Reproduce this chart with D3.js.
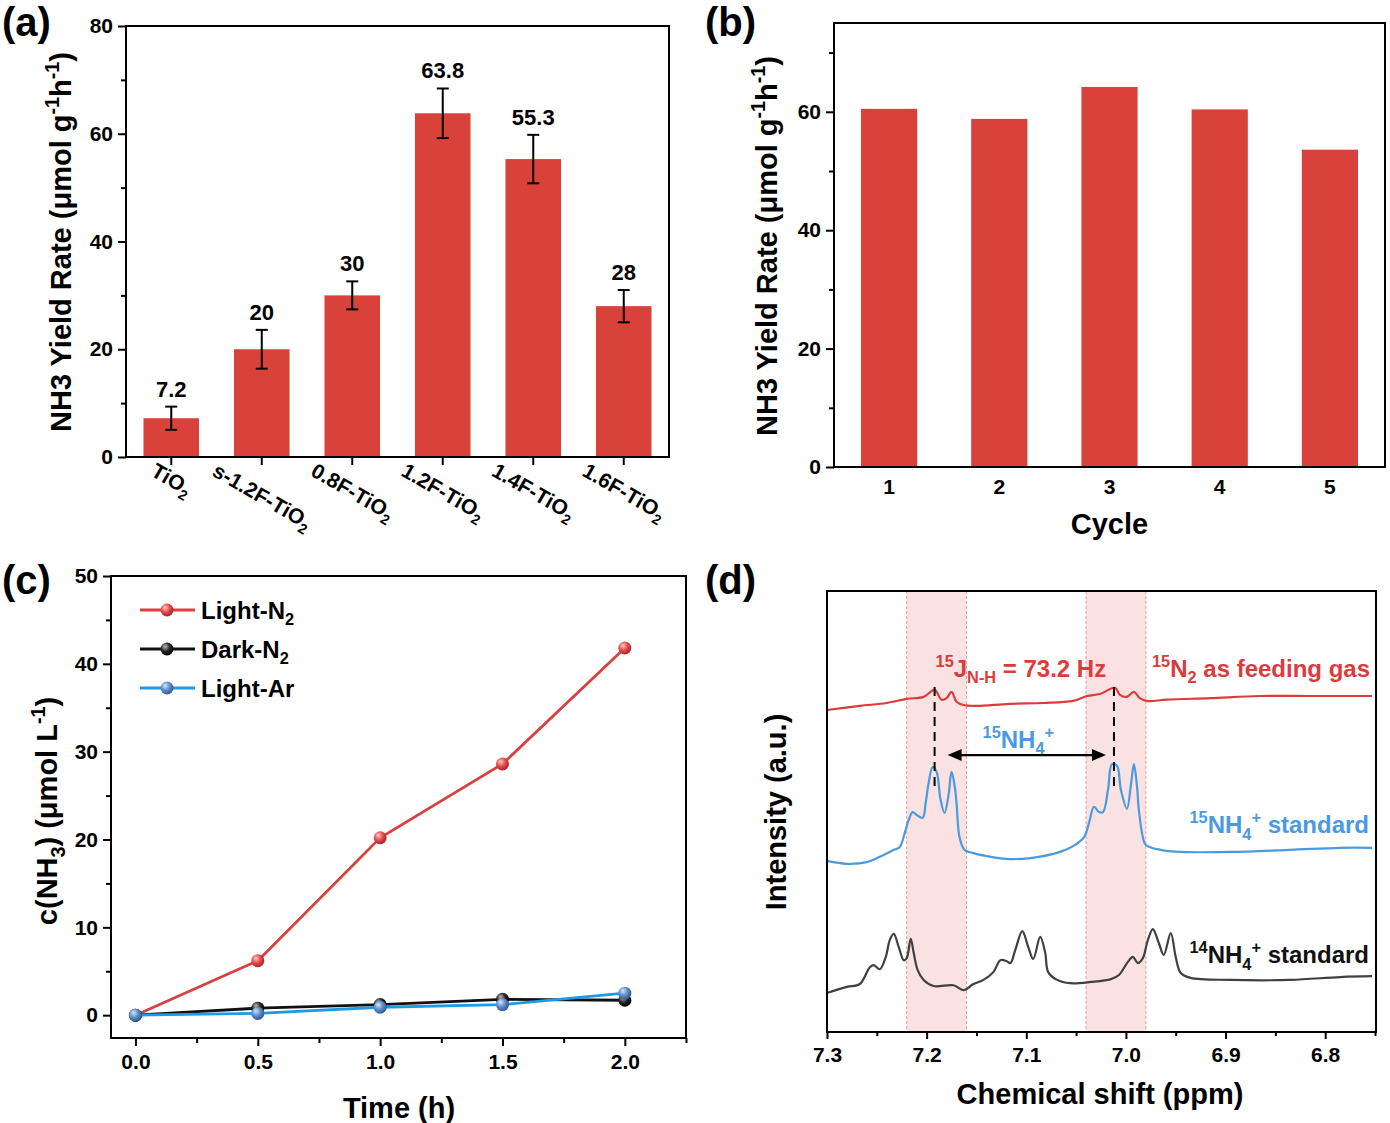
<!DOCTYPE html>
<html>
<head>
<meta charset="utf-8">
<script src="https://cdn.jsdelivr.net/npm/d3@7"></script>
<style>
  body { margin: 0; background: #fff; }
  text { font-family: 'Liberation Sans', Arial, sans-serif; font-weight: bold; }
</style>
</head>
<body>
<script>
// ---- data ----
const samples = ["TiO2", "s-1.2F-TiO2", "0.8F-TiO2", "1.2F-TiO2", "1.4F-TiO2", "1.6F-TiO2"];
const yieldRate = [7.2, 20, 30, 63.8, 55.3, 28];
const yieldErr = [2.15, 3.6, 2.6, 4.6, 4.5, 3.0];

const cycles = ["1", "2", "3", "4", "5"];
const cycleRate = [60.5, 58.8, 64.2, 60.4, 53.6];

const times = [0, 0.5, 1.0, 1.5, 2.0];
const lightN2 = [0, 6.2, 20.2, 28.6, 41.8];
const darkN2 = [0, 0.8, 1.2, 1.8, 1.7];
const lightAr = [0, 0.2, 0.9, 1.2, 2.5];

// NMR traces: [ppm, intensity (a.u.)]
const nmr15N2 = [[7.300,71.2],[7.267,72.2],[7.240,72.9],[7.220,73.9],[7.203,74.4],[7.192,76.1],[7.185,73.7],
  [7.180,74.1],[7.175,75.6],[7.170,73.2],[7.163,72.4],[7.150,72.2],[7.117,72.7],[7.083,72.9],[7.053,73.4],
  [7.039,74.6],[7.026,75.1],[7.011,76.6],[7.006,74.9],[6.999,74.4],[6.992,75.6],[6.986,74.1],[6.979,73.4],
  [6.959,73.7],[6.915,74.1],[6.865,74.6],[6.815,74.6],[6.753,74.6]];
const nmr15Std = [[7.300,34.4],[7.280,33.7],[7.260,34.1],[7.247,35.4],[7.233,37.1],[7.227,37.8],[7.222,41.2],
  [7.218,44.4],[7.214,46.3],[7.210,45.6],[7.204,44.9],[7.201,48.5],[7.198,53.4],[7.194,57.3],[7.190,56.1],
  [7.186,49.3],[7.182,46.1],[7.178,50.5],[7.175,56.1],[7.172,52.9],[7.170,48.5],[7.167,40.2],[7.162,37.1],
  [7.153,36.3],[7.140,35.6],[7.120,34.9],[7.096,35.1],[7.066,36.6],[7.053,38.0],[7.042,40.2],[7.037,43.7],
  [7.032,47.6],[7.027,46.3],[7.023,46.3],[7.018,51.7],[7.014,58.0],[7.009,57.6],[7.005,51.7],[6.999,47.1],
  [6.995,52.9],[6.992,58.0],[6.989,52.9],[6.987,46.8],[6.983,40.2],[6.980,38.3],[6.965,37.1],[6.945,36.6],
  [6.895,36.6],[6.835,37.1],[6.785,37.6],[6.753,37.6]];
const nmr14Std = [[7.300,2.2],[7.280,3.7],[7.267,4.4],[7.257,8.5],[7.253,9.0],[7.247,8.0],[7.241,11.0],
  [7.237,15.1],[7.233,16.6],[7.228,13.4],[7.223,10.2],[7.220,10.7],[7.216,15.4],[7.213,12.0],[7.209,7.8],
  [7.203,5.4],[7.193,3.9],[7.173,4.1],[7.163,2.9],[7.153,4.4],[7.143,5.4],[7.133,7.3],[7.126,10.2],
  [7.120,10.0],[7.116,9.5],[7.111,12.7],[7.104,17.3],[7.098,13.4],[7.093,10.5],[7.086,15.9],[7.081,12.0],
  [7.078,7.3],[7.069,5.4],[7.056,4.6],[7.035,4.9],[7.015,5.6],[7.007,6.6],[6.998,9.8],[6.993,11.0],
  [6.988,9.5],[6.983,10.7],[6.978,15.1],[6.973,17.8],[6.967,14.4],[6.962,11.5],[6.955,16.8],[6.950,11.0],
  [6.945,7.1],[6.935,5.9],[6.895,5.4],[6.835,5.4],[6.785,6.1],[6.753,6.3]];
const nmrBands = [[7.22, 7.16], [7.04, 6.98]];
const couplingPeaks = [7.192, 7.012];

// ---- colours ----
const BAR = "#d9413b";
const RED = "#dd3b3b";
const NMR_BLUE = "#4a9ae0";
const NMR_GREY = "#404040";

const svg = d3.select("body").append("svg").attr("width", 1390).attr("height", 1123);
const defs = svg.append("defs");

function sphere(id, light, base, dark) {
  const g = defs.append("radialGradient").attr("id", id)
    .attr("cx", "40%").attr("cy", "38%").attr("r", "65%").attr("fx", "35%").attr("fy", "30%");
  g.append("stop").attr("offset", "0%").attr("stop-color", light);
  g.append("stop").attr("offset", "55%").attr("stop-color", base);
  g.append("stop").attr("offset", "100%").attr("stop-color", dark);
}
sphere("sRed", "#ffc8c8", "#e04848", "#a82020");
sphere("sBlack", "#bbbbbb", "#222222", "#000000");
sphere("sBlue", "#d8e6f8", "#5b88c8", "#2e5592");

// text with super/subscripts: parts = [[str, "n"|"sup"|"sub"], ...]
function rich(t, parts, size) {
  let shift = 0;
  parts.forEach(([s, kind]) => {
    const target = kind === "sup" ? -0.42 * size : kind === "sub" ? 0.27 * size : 0;
    const sp = t.append("tspan").text(s).attr("dy", target - shift);
    if (kind !== "n") sp.attr("font-size", size * 0.68);
    shift = target;
  });
  return t;
}

function styleAxis(g, size) {
  g.select(".domain").remove();
  g.selectAll(".tick line").attr("stroke", "#000").attr("stroke-width", 2);
  g.selectAll(".tick text").attr("font-size", size || 21).attr("fill", "#000")
    .attr("font-family", "'Liberation Sans', Arial, sans-serif").attr("font-weight", "bold");
}

function frame(x0, x1, y0, y1) {
  svg.append("rect").attr("x", x0).attr("y", y0).attr("width", x1 - x0).attr("height", y1 - y0)
    .attr("fill", "none").attr("stroke", "#000").attr("stroke-width", 2);
}

function panelLabel(x, y, s) {
  svg.append("text").attr("x", x).attr("y", y).attr("font-size", 40).text(s);
}

function yTitle(x, y, parts, size) {
  const t = svg.append("text").attr("text-anchor", "middle")
    .attr("transform", `translate(${x},${y}) rotate(-90)`).attr("font-size", size);
  rich(t.append("tspan").attr("dy", "0.35em"), parts, size);
  return t;
}

// ================= (a) =================
const xa = d3.scaleBand().domain(samples).range([126, 669]).paddingInner(0.386).paddingOuter(0.193);
const ya = d3.scaleLinear().domain([0, 80]).range([457, 26]);
const ga = svg.append("g");

ga.selectAll("rect.bar").data(yieldRate).join("rect")
  .attr("x", (d, i) => xa(samples[i])).attr("y", d => ya(d))
  .attr("width", xa.bandwidth()).attr("height", d => ya(0) - ya(d)).attr("fill", BAR);

const cx = i => xa(samples[i]) + xa.bandwidth() / 2;
const eb = ga.selectAll("g.err").data(yieldRate).join("g").attr("stroke", "#000").attr("stroke-width", 2);
eb.append("line").attr("x1", (d, i) => cx(i)).attr("x2", (d, i) => cx(i))
  .attr("y1", (d, i) => ya(d + yieldErr[i])).attr("y2", (d, i) => ya(d - yieldErr[i]));
eb.append("line").attr("x1", (d, i) => cx(i) - 6).attr("x2", (d, i) => cx(i) + 6)
  .attr("y1", (d, i) => ya(d + yieldErr[i])).attr("y2", (d, i) => ya(d + yieldErr[i]));
eb.append("line").attr("x1", (d, i) => cx(i) - 6).attr("x2", (d, i) => cx(i) + 6)
  .attr("y1", (d, i) => ya(d - yieldErr[i])).attr("y2", (d, i) => ya(d - yieldErr[i]));

ga.selectAll("text.val").data(yieldRate).join("text")
  .attr("x", (d, i) => cx(i)).attr("y", (d, i) => ya(d + yieldErr[i]) - 10)
  .attr("text-anchor", "middle").attr("font-size", 22).text(d => d);

ga.append("g").attr("transform", "translate(126,0)")
  .call(d3.axisLeft(ya).tickValues([0, 20, 40, 60, 80]).tickSize(8).tickPadding(5)).call(styleAxis);
ga.append("g").attr("transform", "translate(126,0)")
  .call(d3.axisLeft(ya).tickValues([10, 30, 50, 70]).tickSize(5).tickFormat("")).call(styleAxis);
ga.append("g").attr("transform", "translate(0,457)")
  .call(d3.axisBottom(xa).tickSize(8).tickFormat("")).call(styleAxis);

ga.selectAll("text.xl").data(samples).join("text")
  .attr("font-size", 21)
  .each(function (d) {
    rich(d3.select(this), [[d.slice(0, -1), "n"], [d.slice(-1), "sub"]], 21);
  })
  .each(function (d) {
    const L = this.getComputedTextLength();
    const x = xa(d) + xa.bandwidth() / 2 - L * 0.433 - 3;
    d3.select(this).attr("transform", `translate(${x},475) rotate(30)`);
  });

frame(126, 669, 26, 457);
yTitle(71, 242, [["NH3 Yield Rate (μmol g", "n"], ["-1", "sup"], ["h", "n"], ["-1", "sup"], [")", "n"]], 29);
panelLabel(2, 36, "(a)");

// ================= (b) =================
const xb = d3.scaleBand().domain(cycles).range([834, 1385]).paddingInner(0.49).paddingOuter(0.245);
const yb = d3.scaleLinear().domain([0, 75]).range([467, 23]);
const gb = svg.append("g");

gb.selectAll("rect").data(cycleRate).join("rect")
  .attr("x", (d, i) => xb(cycles[i])).attr("y", d => yb(d))
  .attr("width", xb.bandwidth()).attr("height", d => yb(0) - yb(d)).attr("fill", BAR);

gb.append("g").attr("transform", "translate(834,0)")
  .call(d3.axisLeft(yb).tickValues([0, 20, 40, 60]).tickSize(8).tickPadding(5)).call(styleAxis);
gb.append("g").attr("transform", "translate(834,0)")
  .call(d3.axisLeft(yb).tickValues([10, 30, 50, 70]).tickSize(5).tickFormat("")).call(styleAxis);
gb.append("g").attr("transform", "translate(0,467)")
  .call(d3.axisBottom(xb).tickSize(0).tickPadding(12)).call(styleAxis);

frame(834, 1385, 23, 467);
yTitle(777, 246, [["NH3 Yield Rate (μmol g", "n"], ["-1", "sup"], ["h", "n"], ["-1", "sup"], [")", "n"]], 29);
svg.append("text").attr("x", (834 + 1385) / 2).attr("y", 534).attr("text-anchor", "middle")
  .attr("font-size", 29).text("Cycle");
panelLabel(705, 36, "(b)");

// ================= (c) =================
const xc = d3.scaleLinear().domain([-0.1, 2.25]).range([111, 686]);
const yc = d3.scaleLinear().domain([-2.6, 50]).range([1038, 576]);
const gc = svg.append("g");

gc.append("g").attr("transform", "translate(111,0)")
  .call(d3.axisLeft(yc).tickValues([0, 10, 20, 30, 40, 50]).tickSize(8).tickPadding(5)).call(styleAxis);
gc.append("g").attr("transform", "translate(111,0)")
  .call(d3.axisLeft(yc).tickValues([5, 15, 25, 35, 45]).tickSize(5).tickFormat("")).call(styleAxis);
gc.append("g").attr("transform", "translate(0,1038)")
  .call(d3.axisBottom(xc).tickValues([0, 0.5, 1, 1.5, 2]).tickFormat(d3.format(".1f")).tickSize(8).tickPadding(8))
  .call(styleAxis);
gc.append("g").attr("transform", "translate(0,1038)")
  .call(d3.axisBottom(xc).tickValues([0.25, 0.75, 1.25, 1.75, 2.25]).tickSize(5).tickFormat("")).call(styleAxis);

const seriesC = [
  { name: "Light-N", sub: "2", vals: lightN2, line: "#d94141", fill: "url(#sRed)" },
  { name: "Dark-N", sub: "2", vals: darkN2, line: "#111111", fill: "url(#sBlack)" },
  { name: "Light-Ar", sub: "", vals: lightAr, line: "#1c9ce6", fill: "url(#sBlue)" }
];
const lineC = d3.line().x((d, i) => xc(times[i])).y(d => yc(d));
seriesC.forEach(s => {
  gc.append("path").datum(s.vals).attr("d", lineC).attr("fill", "none")
    .attr("stroke", s.line).attr("stroke-width", 2.8);
});
seriesC.forEach(s => {
  gc.selectAll(null).data(s.vals).join("circle")
    .attr("cx", (d, i) => xc(times[i])).attr("cy", d => yc(d)).attr("r", 6.5).attr("fill", s.fill);
});

const leg = gc.selectAll("g.leg").data(seriesC).join("g")
  .attr("transform", (d, i) => `translate(0,${610 + i * 39})`);
leg.append("line").attr("x1", 140).attr("x2", 195).attr("stroke", d => d.line).attr("stroke-width", 2.8);
leg.append("circle").attr("cx", 167).attr("r", 6.5).attr("fill", d => d.fill);
leg.append("text").attr("x", 201).attr("y", 9).attr("font-size", 24)
  .each(function (d) {
    const parts = [[d.name, "n"]];
    if (d.sub) parts.push([d.sub, "sub"]);
    rich(d3.select(this), parts, 24);
  });

frame(111, 686, 576, 1038);
yTitle(57, 811, [["c(NH", "n"], ["3", "sub"], [")", "n"], [" (μmol L", "n"], ["-1", "sup"], [")", "n"]], 29);
svg.append("text").attr("x", 399).attr("y", 1118).attr("text-anchor", "middle")
  .attr("font-size", 29).text("Time (h)");
panelLabel(2, 594, "(c)");

// ================= (d) =================
const xd = d3.scaleLinear().domain([7.3, 6.749]).range([827, 1376]);
const yd = d3.scaleLinear().domain([-7.3, 100.2]).range([1032, 591]);
const gd = svg.append("g");

nmrBands.forEach(([a, b]) => {
  gd.append("rect").attr("x", xd(a)).attr("y", 591).attr("width", xd(b) - xd(a)).attr("height", 1032 - 591)
    .attr("fill", "#fbe2e2");
  [a, b].forEach(p => gd.append("line").attr("x1", xd(p)).attr("x2", xd(p)).attr("y1", 591).attr("y2", 1032)
    .attr("stroke", "#ec9a9a").attr("stroke-width", 1).attr("stroke-dasharray", "3,2"));
});

const lineD = d3.line().x(d => xd(d[0])).y(d => yd(d[1])).curve(d3.curveCatmullRom.alpha(0.5));
[[nmr15N2, RED], [nmr15Std, NMR_BLUE], [nmr14Std, NMR_GREY]].forEach(([data, col]) => {
  gd.append("path").datum(data).attr("d", lineD).attr("fill", "none")
    .attr("stroke", col).attr("stroke-width", 2.2).attr("stroke-linejoin", "round");
});

couplingPeaks.forEach(p => {
  gd.append("line").attr("x1", xd(p)).attr("x2", xd(p)).attr("y1", yd(76.8)).attr("y2", yd(52.5))
    .attr("stroke", "#000").attr("stroke-width", 2).attr("stroke-dasharray", "9,6");
});
// double arrow between the doublet lines
const ay = yd(60.2), ax0 = xd(couplingPeaks[0]) + 13, ax1 = xd(couplingPeaks[1]) - 8;
gd.append("line").attr("x1", ax0 + 10).attr("x2", ax1 - 10).attr("y1", ay).attr("y2", ay)
  .attr("stroke", "#000").attr("stroke-width", 2.2);
gd.append("path").attr("d", `M${ax0},${ay} l14,-6 l0,12 z M${ax1},${ay} l-14,-6 l0,12 z`).attr("fill", "#000");

rich(gd.append("text").attr("x", xd(7.191)).attr("y", yd(79.3)).attr("font-size", 24).attr("fill", RED),
  [["15", "sup"], ["J", "n"], ["N-H", "sub"], [" = 73.2 Hz", "n"]], 24);
rich(gd.append("text").attr("x", 1370).attr("y", yd(79.3)).attr("text-anchor", "end").attr("font-size", 24).attr("fill", RED),
  [["15", "sup"], ["N", "n"], ["2", "sub"], [" as feeding gas", "n"]], 24);
rich(gd.append("text").attr("x", xd(7.108)).attr("y", yd(62.0)).attr("text-anchor", "middle").attr("font-size", 24).attr("fill", NMR_BLUE),
  [["15", "sup"], ["NH", "n"], ["4", "sub"], ["+", "sup"]], 24);
rich(gd.append("text").attr("x", 1369).attr("y", yd(41.2)).attr("text-anchor", "end").attr("font-size", 24).attr("fill", NMR_BLUE),
  [["15", "sup"], ["NH", "n"], ["4", "sub"], ["+", "sup"], [" standard", "n"]], 24);
rich(gd.append("text").attr("x", 1369).attr("y", yd(9.5)).attr("text-anchor", "end").attr("font-size", 24).attr("fill", "#111"),
  [["14", "sup"], ["NH", "n"], ["4", "sub"], ["+", "sup"], [" standard", "n"]], 24);

gd.append("g").attr("transform", "translate(0,1032)")
  .call(d3.axisBottom(xd).tickValues([7.3, 7.2, 7.1, 7.0, 6.9, 6.8]).tickFormat(d3.format(".1f")).tickSize(7).tickPadding(8))
  .call(styleAxis);
gd.append("g").attr("transform", "translate(0,1032)")
  .call(d3.axisBottom(xd).tickValues([7.25, 7.15, 7.05, 6.95, 6.85, 6.75].filter(v => v >= 6.749)).tickSize(4).tickFormat(""))
  .call(styleAxis);

frame(827, 1376, 591, 1032);
yTitle(786, 812, [["Intensity (a.u.)", "n"]], 29);
svg.append("text").attr("x", 1100).attr("y", 1104).attr("text-anchor", "middle")
  .attr("font-size", 29).text("Chemical shift (ppm)");
panelLabel(705, 594, "(d)");
</script>
</body>
</html>
